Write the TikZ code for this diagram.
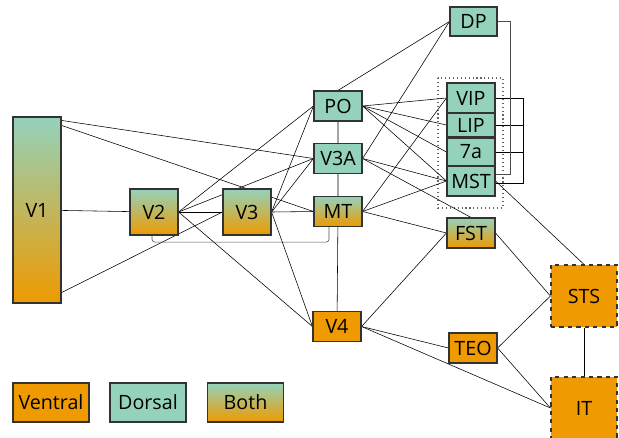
\documentclass[tikz,border=0pt]{standalone}
\usepackage{fontspec}
\setmainfont{Open Sans}
\usetikzlibrary{calc, backgrounds}
\definecolor{dorsal}{RGB}{148,210,187}
\definecolor{ventral}{RGB}{238,154,0}
\tikzset{
    areabox/.style={draw=black!80, line width=.8pt, inner sep=0pt, minimum width=1.2cm, minimum height=.75cm, font=\fontsize{14}{16}\selectfont},
    dorsbox/.style={areabox, fill=dorsal},
    ventbox/.style={areabox, fill=ventral},
    bothbox/.style={areabox, top color=dorsal, bottom color=ventral},
    link/.style={line width=.7pt},
}

\begin{document}
\begin{tikzpicture}[x=.025cm, y=-.025cm]
    \useasboundingbox (0, 0) rectangle (619, 437);
    \node[bothbox, minimum height=4.65cm](V1) at (37, 210){V1};
    \node[bothbox, minimum height=1.15cm](V2) at (154, 212){V2};
    \node[bothbox, minimum height=1.15cm](V3) at (247, 212){V3};
    \node[dorsbox](PO) at (338, 106){PO};
    \node[dorsbox](V3A) at (338, 158.5){V3A};
    \node[bothbox](MT) at (338, 211.5){MT};
    \node[ventbox](V4) at (337, 326.5){V4};
    \node[dorsbox, minimum width=1.175cm, minimum height=.725cm](DP) at (473.5, 21.5){DP};
    \node[dorsbox](VIP) at (471, 98){VIP};
    \node[dorsbox, minimum height=.6cm](LIP) at (471, 125){LIP};
    \node[dorsbox, minimum height=.7cm](a7) at (471, 152){7a};
    \node[dorsbox](MST) at (471, 181){MST};
    \node[bothbox](FST) at (471, 233){FST};
    \node[ventbox](TEO) at (473, 348){TEO};
    \node[ventbox, dashed, minimum width=1.65cm, minimum height=1.55cm](STS) at (584, 296){STS};
    \node[ventbox, dashed, minimum width=1.65cm, minimum height=1.55cm](IT) at (584, 408){IT};
    \node[ventbox, minimum width=1.9cm, minimum height=.975cm](ventral) at (51, 402.5){Ventral};
    \node[dorsbox, minimum width=1.9cm, minimum height=.975cm](dorsal) at (148, 402.5){Dorsal};
    \node[bothbox, minimum width=1.9cm, minimum height=.975cm](both) at (245.5, 402.5){Both};
    \begin{scope}[on background layer, link]
        \draw[dotted, black!60, line width=.8pt](438, 78) rectangle (503, 208);
        \draw(V1)--(V2);
        \draw($(V1.north east)+(0, 4)$)--(V3A.west);
        \draw($(V1.north east)+(0, 9)$)--(MT.west);
        \draw($(V1.south east)+(0, -11)$)--(V3.west);
        \draw(V2.east)--(PO.west);
        \draw(V2.east)--(V3A.west);
        \draw(V2.east)--(V3.west);
        \draw(V2.east)--(V4.west);
        \draw[black!70, rounded corners=2pt]($(V2.south)+(-2, 0)$)|-($(MT.south)+(-9, 15)$)--($(MT.south)+(-9, 0)$);
        \draw(V3.east)--(PO.west);
        \draw(V3.east)--(V3A.west);
        \draw(V3.east)--(MT.west);
        \draw(V3.east)--(V4.west);
        \draw(PO.north)--(DP.west);
        \draw(PO)--(V3A)--(MT)--(V4);
        \draw(PO.east)--(VIP.west);
        \draw(PO.east)--(LIP.west);
        \draw(PO.east)--(a7.west);
        \draw(PO.east)--(MST.west);
        \draw(V3A.east)--(DP.west);
        \draw(V3A.east)--(MST.west);
        \draw(V3A.east)--(FST.north);
        \draw(MT.east)--(VIP.west);
        \draw(MT.east)--(MST.west);
        \draw(MT.east)--(FST.west);
        \draw(V4.east)--(FST.west);
        \draw(V4.east)--(TEO.west);
        \draw(V4.east)--(IT.west);
        \draw(TEO.east)--(STS.west);
        \draw(TEO.east)--(IT.west);
        \draw(FST.east)--(STS.west);
        \draw(MST.east)--(STS.north);
        \draw(STS)--(IT);
        \draw(VIP.east)--++(28, 0)|-($(MST.east)+(0, 2)$);
        \draw(LIP.east)--++(28, 0);
        \draw(a7.east)--++(28, 0);
        \draw[black!70](DP.east)--++(13, 0)|-($(MST.east)+(0, -7)$);
    \end{scope}
\end{tikzpicture}
\end{document}
